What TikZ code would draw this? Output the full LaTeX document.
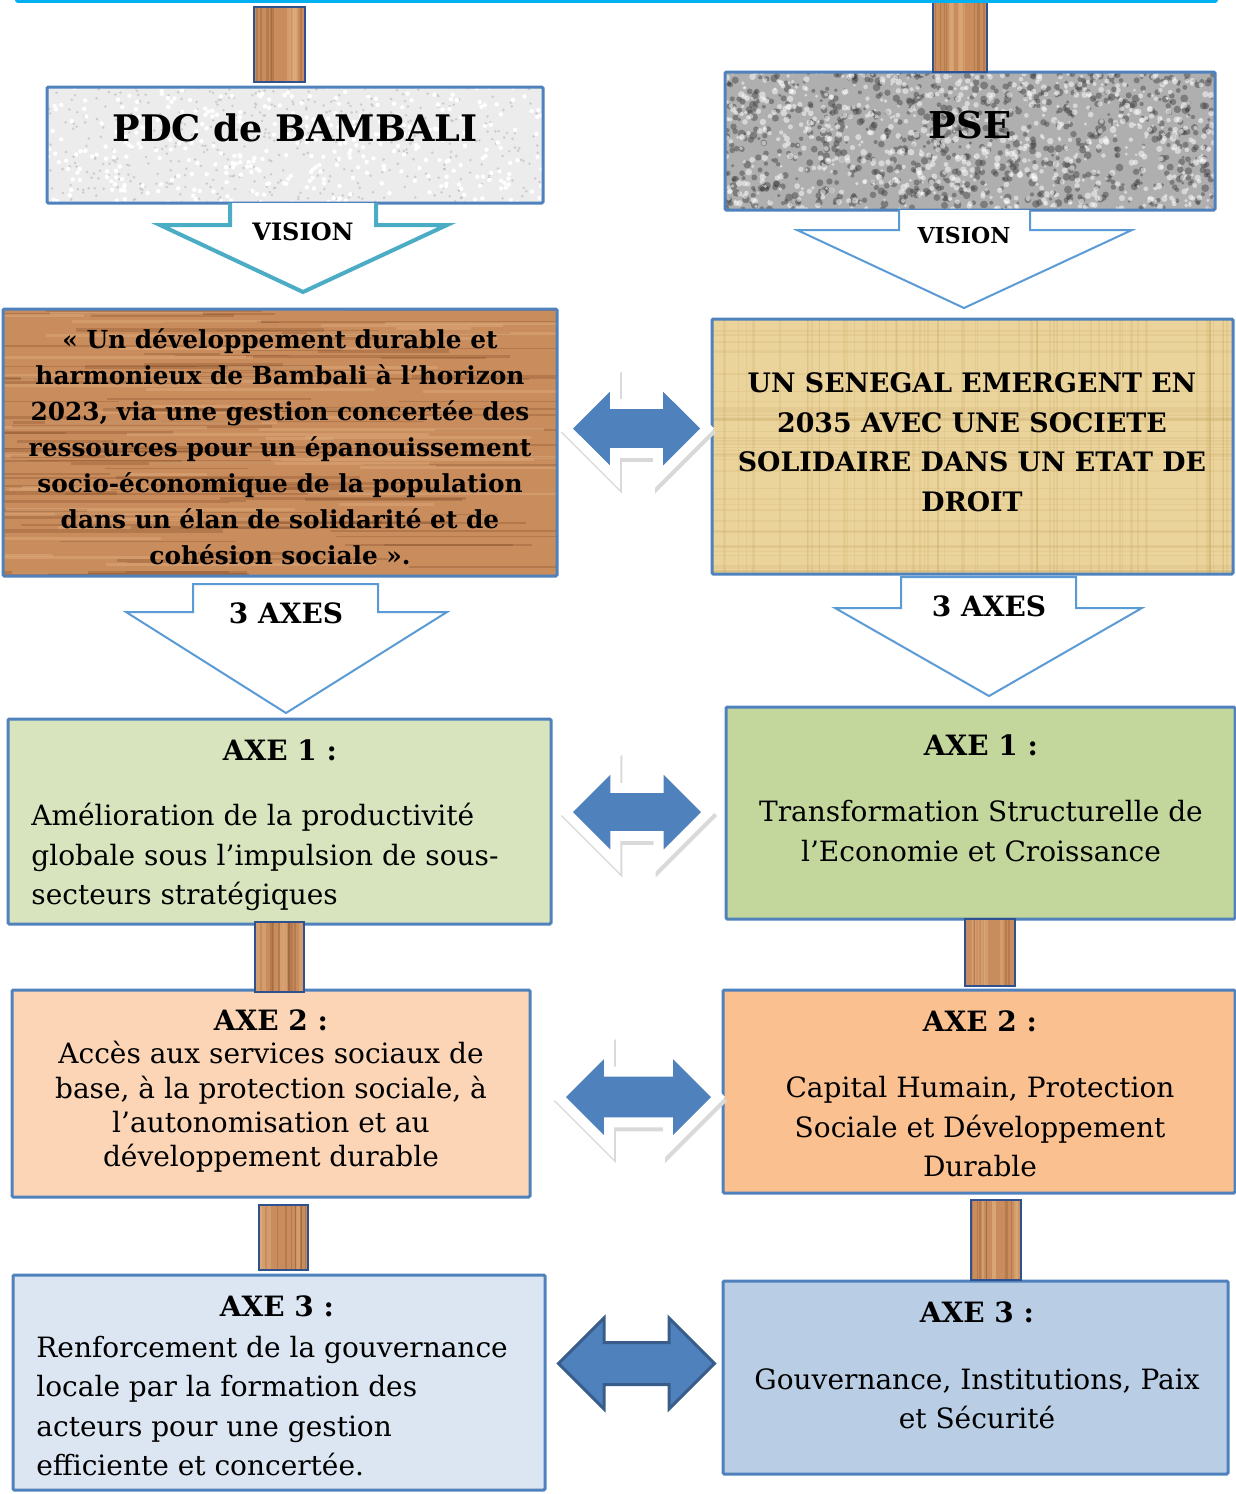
\documentclass[tikz,border=0pt]{standalone}
\usepackage{fontspec}
\setmainfont{DejaVu Serif}
\usetikzlibrary{shapes.arrows,calc}
\definecolor{bordblue}{HTML}{4F81BD}
\definecolor{visteal}{HTML}{4BACC6}
\definecolor{arrline}{HTML}{5B9BD5}
\definecolor{arrblue}{HTML}{4F81BD}
\definecolor{arrdark}{HTML}{385D8A}
\definecolor{postbord}{HTML}{2F528F}
\definecolor{topcyan}{HTML}{00B0F0}
\definecolor{greenA}{HTML}{D7E4BD}
\definecolor{greenB}{HTML}{C3D69B}
\definecolor{peachA}{HTML}{FBD5B5}
\definecolor{peachB}{HTML}{FAC090}
\definecolor{blueA}{HTML}{DCE6F2}
\definecolor{blueB}{HTML}{B9CDE5}
\definecolor{woodbase}{HTML}{C98C5C}
\definecolor{wooddark}{HTML}{7A4521}
\definecolor{woodlight}{HTML}{E0AE7E}
\definecolor{papbase}{HTML}{EBD49C}
\definecolor{papdark}{HTML}{C9A865}
\definecolor{granite}{HTML}{AFAFAF}
\definecolor{lightgray}{HTML}{ECECEC}
\definecolor{shadowgray}{HTML}{D9D9D9}
\newcommand\mkbox[6]{\node[#6, minimum width={(#4-#2)*0.5pt}, minimum height={(#5-#3)*0.5pt}] (#1) at ({(#2+#4)/2},{(#3+#5)/2}) {};}
\newcommand\woodtex[4]{%
  \begin{scope}
    \clip (#1,#2) rectangle (#3,#4);
    \fill[woodbase] (#1,#2) rectangle (#3,#4);
    \foreach \i in {1,...,110}{%
      \pgfmathsetmacro\yy{#2+(#4-#2)*rnd}%
      \pgfmathsetmacro\xa{#1-120+(#3-#1)*rnd}%
      \pgfmathsetmacro\ll{60+260*rnd}%
      \pgfmathsetmacro\ww{0.4+1.4*rnd}%
      \draw[wooddark, opacity=0.28, line width=\ww pt] (\xa,\yy) -- ++(\ll,0);
    }
    \foreach \i in {1,...,50}{%
      \pgfmathsetmacro\yy{#2+(#4-#2)*rnd}%
      \pgfmathsetmacro\xa{#1-120+(#3-#1)*rnd}%
      \pgfmathsetmacro\ll{60+260*rnd}%
      \draw[woodlight, opacity=0.45, line width=1.5pt] (\xa,\yy) -- ++(\ll,0);
    }
  \end{scope}}
\newcommand\posttex[4]{%
  \begin{scope}
    \clip (#1,#2) rectangle (#3,#4);
    \fill[woodbase] (#1,#2) rectangle (#3,#4);
    \foreach \i in {1,...,8}{%
      \pgfmathsetmacro\xx{#1+(#3-#1)*rnd}%
      \pgfmathsetmacro\ww{0.4+1.0*rnd}%
      \draw[wooddark, opacity=0.25, line width=\ww pt] (\xx,#2) -- (\xx,#4);
    }
    \foreach \i in {1,...,5}{%
      \pgfmathsetmacro\xx{#1+(#3-#1)*rnd}%
      \draw[woodlight, opacity=0.5, line width=2pt] (\xx,#2) -- (\xx,#4);
    }
  \end{scope}}
\begin{document}
\begin{tikzpicture}[x=0.5pt,y=-0.5pt,
  box/.style={draw=bordblue, line width=1.5pt, rounded corners=0.6pt, inner sep=0pt, outer sep=0pt},
  post/.style={draw=postbord, line width=1pt, inner sep=0pt, outer sep=0pt},
  head/.style={font=\bfseries\fontsize{14}{16}\selectfont, inner sep=0pt},
  body/.style={font=\fontsize{14}{19.75}\selectfont, inner sep=0pt},
  visionarrow/.style={fill=white, line join=miter},
  dbl/.style={double arrow, double arrow head extend=#1, double arrow tip angle=90,
     inner xsep=0pt, outer sep=0pt, minimum width=1pt, fill=arrblue},
  haloed/.style={preaction={fill=shadowgray, draw=shadowgray, line width=10pt, line join=miter,
       transform canvas={xshift=1pt,yshift=-2pt}},
     preaction={draw=white, line width=10pt, line join=miter}},
]
\useasboundingbox (0,0) rectangle (1236,1494);
\pgfmathsetseed{7}

% ---------- top boxes ----------
\begin{scope}
  \clip (47,87) rectangle (543,203);
  \fill[lightgray] (47,87) rectangle (543,203);
  \foreach \i in {1,...,450}{%
    \pgfmathsetmacro\xx{47+496*rnd}\pgfmathsetmacro\yy{87+116*rnd}%
    \fill[black!25, opacity=0.7] (\xx,\yy) circle[radius=0.7pt];}
  \foreach \i in {1,...,350}{%
    \pgfmathsetmacro\xx{47+496*rnd}\pgfmathsetmacro\yy{87+116*rnd}%
    \fill[white] (\xx,\yy) circle[radius=1.1pt];}
\end{scope}
\mkbox{pdc}{47}{87}{543}{203}{box}
\node[font=\bfseries\fontsize{18.3}{22}\selectfont, inner sep=0pt] (pdct) at (295,128) {PDC de BAMBALI};

\begin{scope}
  \clip (725,72) rectangle (1215,210);
  \fill[granite] (725,72) rectangle (1215,210);
  \foreach \i in {1,...,800}{%
    \pgfmathsetmacro\xx{725+490*rnd}\pgfmathsetmacro\yy{72+138*rnd}\pgfmathsetmacro\rr{0.8+1.2*rnd}%
    \fill[black!75, opacity=0.45] (\xx,\yy) circle[radius=\rr pt];}
  \foreach \i in {1,...,800}{%
    \pgfmathsetmacro\xx{725+490*rnd}\pgfmathsetmacro\yy{72+138*rnd}\pgfmathsetmacro\rr{0.7+1.0*rnd}%
    \fill[white, opacity=0.5] (\xx,\yy) circle[radius=\rr pt];}
\end{scope}
\mkbox{pse}{725}{72}{1215}{210}{box}
\node[font=\bfseries\fontsize{18.5}{22}\selectfont, inner sep=0pt] (pset) at (970,125) {PSE};

% ---------- VISION arrows ----------
\draw[visionarrow, draw=visteal, line width=2pt]
  (230,203) -- (230,225) -- (160,225) -- (303,292) -- (447,225) -- (376,225) -- (376,203);
\node[head, font=\bfseries\fontsize{12}{14}\selectfont] (visL) at (303,232) {VISION};
\draw[visionarrow, draw=arrline, line width=1pt]
  (899,210) -- (899,230) -- (797,230) -- (964,308) -- (1132,230) -- (1030,230) -- (1030,210);
\node[head, font=\bfseries\fontsize{11}{14}\selectfont] (visR) at (964,235) {VISION};

% ---------- vision boxes ----------
\woodtex{3}{309}{557}{576}
\mkbox{vL}{3}{309}{557}{576}{box}
\node[font=\bfseries\fontsize{12.4}{18}\selectfont, align=center, inner sep=0pt] (vLt) at (280,447)
 {« Un développement durable et\\ harmonieux de Bambali à l’horizon\\ 2023, via une gestion concertée des\\
  ressources pour un épanouissement\\ socio-économique de la population\\ dans un élan de solidarité et de\\ cohésion sociale ».};

\begin{scope}
  \clip (712,319) rectangle (1233,574);
  \fill[papbase] (712,319) rectangle (1233,574);
  \foreach \i in {1,...,70}{%
    \pgfmathsetmacro\xx{712+521*rnd}\pgfmathsetmacro\ww{0.3+0.9*rnd}%
    \draw[papdark, opacity=0.22, line width=\ww pt] (\xx,319) -- (\xx,574);}
  \foreach \i in {1,...,50}{%
    \pgfmathsetmacro\yy{319+255*rnd}\pgfmathsetmacro\ww{0.3+0.9*rnd}%
    \draw[papdark, opacity=0.2, line width=\ww pt] (712,\yy) -- (1233,\yy);}
\end{scope}
\mkbox{vR}{712}{319}{1233}{574}{box}
\node[font=\bfseries\fontsize{13.4}{19.75}\selectfont, align=center, inner sep=0pt] (vRt) at (972,442)
 {UN SENEGAL EMERGENT EN\\ 2035 AVEC UNE SOCIETE\\ SOLIDAIRE DANS UN ETAT DE\\ DROIT};

% ---------- 3 AXES arrows ----------
\draw[visionarrow, draw=arrline, line width=1pt]
  (193,584) -- (193,612) -- (126,612) -- (286,713) -- (447,612) -- (378,612) -- (378,584) -- cycle;
\node[head] (axL) at (286,613) {3 AXES};
\draw[visionarrow, draw=arrline, line width=1pt]
  (901,577) -- (901,608) -- (835,608) -- (989,696) -- (1142,608) -- (1076,608) -- (1076,577) -- cycle;
\node[head] (axR) at (989,606) {3 AXES};

% ---------- AXE 1 ----------
\mkbox{a1L}{8}{719}{551}{924}{box, fill=greenA}
\node[head] (a1Lh) at (280,750) {AXE 1 :};
\node[body, align=left, anchor=west] (a1Lb) at (31,857)
 {Amélioration de la productivité\\ globale sous l’impulsion de sous-\\ secteurs stratégiques};
\mkbox{a1R}{726}{707}{1235}{919}{box, fill=greenB}
\node[head] (a1Rh) at (981,745) {AXE 1 :};
\node[body, align=center] (a1Rb) at (981,831)
 {Transformation Structurelle de\\ l’Economie et Croissance};

% ---------- AXE 2 ----------
\mkbox{a2L}{12}{990}{530}{1197}{box, fill=peachA}
\node[head] (a2Lh) at (271,1020) {AXE 2 :};
\node[body, font=\fontsize{14}{17.2}\selectfont, align=center] (a2Lb) at (271,1107)
 {Accès aux services sociaux de\\ base, à la protection sociale, à\\ l’autonomisation et au\\ développement durable};
\mkbox{a2R}{723}{990}{1235}{1193}{box, fill=peachB}
\node[head] (a2Rh) at (980,1021) {AXE 2 :};
\node[body, align=center] (a2Rb) at (980,1127)
 {Capital Humain, Protection\\ Sociale et Développement\\ Durable};

% ---------- AXE 3 ----------
\mkbox{a3L}{13}{1275}{545}{1490}{box, fill=blueA}
\node[head] (a3Lh) at (277,1306) {AXE 3 :};
\node[body, align=left, anchor=west] (a3Lb) at (36,1406)
 {Renforcement de la gouvernance\\ locale par la formation des\\ acteurs pour une gestion\\ efficiente et concertée.};
\mkbox{a3R}{723}{1281}{1228}{1474}{box, fill=blueB}
\node[head] (a3Rh) at (977,1312) {AXE 3 :};
\node[body, align=center] (a3Rb) at (977,1399)
 {Gouvernance, Institutions, Paix\\ et Sécurité};

% ---------- double arrows ----------
\node[dbl=8.75pt, haloed, inner ysep=9.5pt, minimum height=63.5pt] (d1) at (636.5,428.5) {};
\node[dbl=9.25pt, haloed, inner ysep=9.25pt, minimum height=64pt] (d2) at (637,812) {};
\node[dbl=8.75pt, haloed, inner ysep=10pt, minimum height=72.5pt] (d3) at (638.5,1097) {};
\node[dbl=12.25pt, draw=arrdark, line width=1.5pt, line join=miter, inner ysep=9.75pt, minimum height=78pt] (d4) at (636.5,1363.5) {};

% ---------- wooden posts ----------
\posttex{254}{7}{305}{82}
\mkbox{p0L}{254}{7}{305}{82}{post}
\posttex{933}{-4}{987}{72}
\mkbox{p0R}{933}{-4}{987}{72}{post}
\posttex{255}{922}{304}{992}
\mkbox{p1L}{255}{922}{304}{992}{post}
\posttex{965}{919}{1015}{986}
\mkbox{p1R}{965}{919}{1015}{986}{post}
\posttex{259}{1205}{308}{1270}
\mkbox{p2L}{259}{1205}{308}{1270}{post}
\posttex{971}{1200}{1021}{1280}
\mkbox{p2R}{971}{1200}{1021}{1280}{post}

% ---------- top cyan rule ----------
\coordinate (topL) at (18,0);
\coordinate (topR) at (1215,0);
\draw[topcyan, line width=3pt, line cap=round] (topL) -- (topR);
\end{tikzpicture}
\end{document}
